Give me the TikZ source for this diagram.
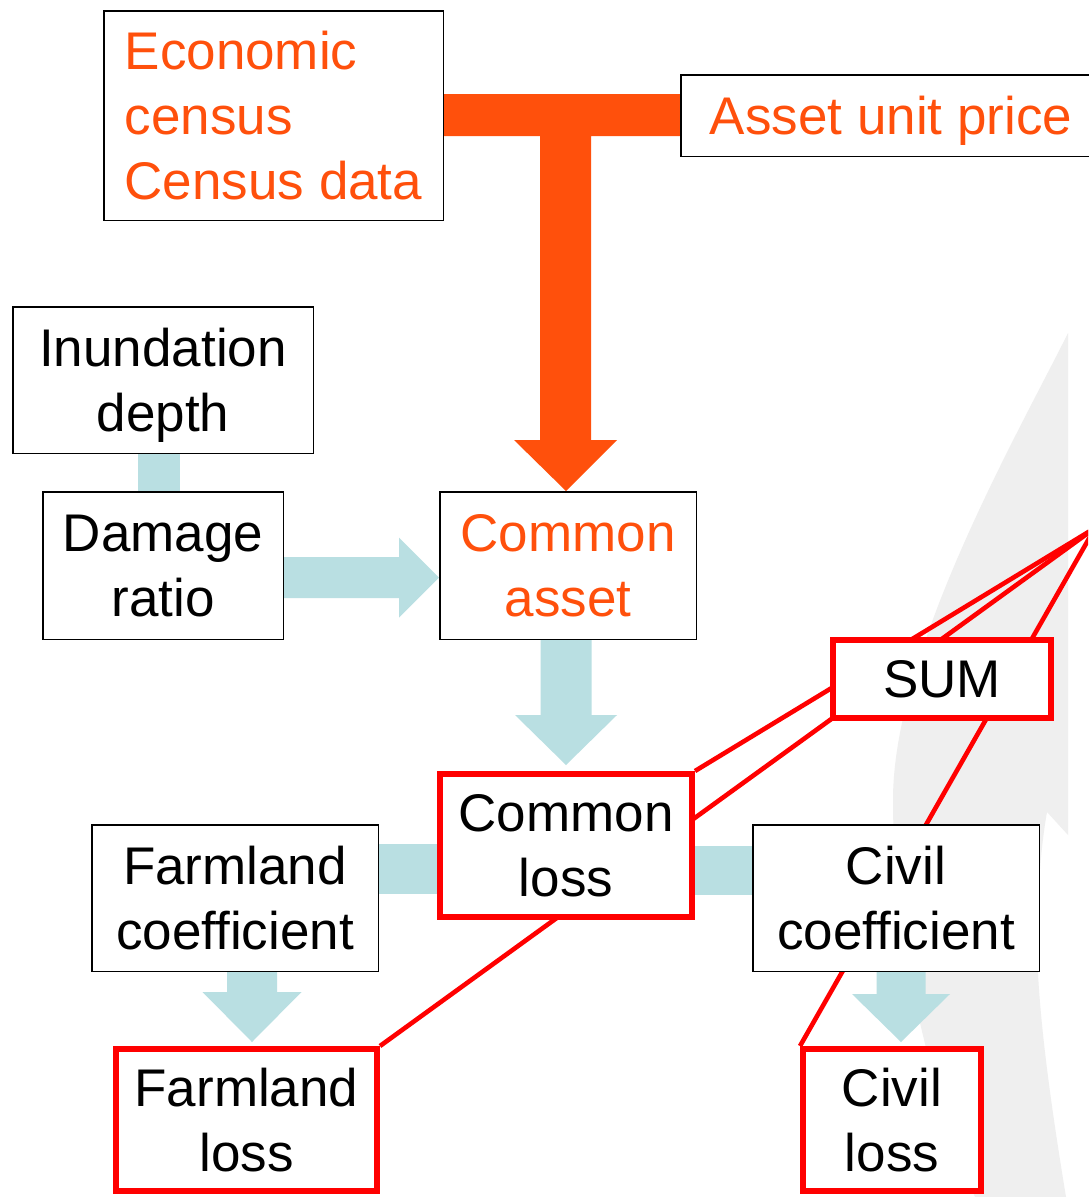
\documentclass[tikz,border=0pt]{standalone}
\usepackage{fontspec}
\setmainfont{Liberation Sans}
\usetikzlibrary{calc}
\definecolor{orangeT}{HTML}{FF500C}
\definecolor{bluearrow}{HTML}{B9DFE2}
\definecolor{swoosh}{HTML}{EFEFEF}
\pgfdeclarelayer{background}
\pgfsetlayers{background,main}
\begin{document}
\begin{tikzpicture}[x=1pt,y=-1pt,
  box/.style={draw=black,line width=1.5pt,fill=white,inner sep=0pt,align=center,text depth=0pt,font=\fontsize{53}{65}\selectfont},
  redbox/.style={box,draw=red,line width=6pt},
  orangetext/.style={text=orangeT},
  redlink/.style={draw=red,line width=4.6pt},
  bluelink/.style={fill=bluearrow},
  tarrow/.style={fill=orangeT}]
\useasboundingbox (0,0) rectangle (1088,1197);

% nodes
\node[box,orangetext,align=left,minimum width=339.5,minimum height=209.5] (econ) at (273.5,115.5) {Economic\\census\\Census data};
\node[box,orangetext,minimum width=420,minimum height=81.5] (price) at (891,115.5) {Asset unit price};
\node[box,minimum width=300.5,minimum height=146.5] (inund) at (163,380) {Inundation\\depth};
\node[box,minimum width=240.5,minimum height=147.5] (damage) at (163,565.5) {Damage\\ratio};
\node[box,orangetext,minimum width=256.5,minimum height=147.5] (casset) at (568,565.5) {Common\\asset};
\node[redbox,minimum width=252,minimum height=143] (closs) at (566,845.5) {Common\\loss};
\node[box,minimum width=286.5,minimum height=146.5] (fcoef) at (235,898) {Farmland\\coefficient};
\node[box,minimum width=286.5,minimum height=146.5] (ccoef) at (896,898) {Civil\\coefficient};
\node[redbox,minimum width=261,minimum height=142] (floss) at (246.5,1120) {Farmland\\loss};
\node[redbox,minimum width=178,minimum height=142] (cvloss) at (892,1120) {Civil\\loss};
\node[redbox,minimum width=218,minimum height=78] (sum) at (942,679) {SUM};
\coordinate (P) at (1095,528);

\begin{pgfonlayer}{background}
\clip (0,0) rectangle (1088,1197);
\fill[white] (0,0) rectangle (1088,1197);
% grey swoosh
\fill[swoosh] (1068,333) .. controls (1020,430) and (893,650) .. (893,800)
  .. controls (893,950) and (935,1100) .. (975,1197)
  -- (1066,1197)
  .. controls (1050,1100) and (1036,1000) .. (1037,930)
  .. controls (1038,880) and (1042,840) .. (1047,812)
  -- (1068,835) -- cycle;
% red pointer lines
\draw[redlink] (P) -- (closs.north east);
\draw[redlink] (P) -- (floss.north east);
\draw[redlink] (P) -- (cvloss.north west);
% blue connectors
\fill[bluelink] ($(inund.south)+(-25,0)$) rectangle ($(damage.north)+(17,0)$);
\coordinate (dc) at ($(damage.east)+(0,12)$);
\coordinate (dt) at (casset.west |- dc);
\fill[bluelink] ($(dc)+(0,-20.5)$) -- ($(dt)+(-40,-20.5)$) -- ($(dt)+(-40,-40)$) -- (dt)
  -- ($(dt)+(-40,40)$) -- ($(dt)+(-40,20.5)$) -- ($(dc)+(0,20.5)$) -- cycle;
\coordinate (ct) at ($(closs.north)+(0,-6)$);
\coordinate (cs) at (casset.south -| ct);
\fill[bluelink] ($(cs)+(-25.5,0)$) -- ($(ct)+(-25.5,-50)$) -- ($(ct)+(-51,-50)$) -- (ct)
  -- ($(ct)+(51,-50)$) -- ($(ct)+(25.5,-50)$) -- ($(cs)+(25.5,0)$) -- cycle;
\fill[bluelink] ($(fcoef.east)+(0,-54)$) rectangle ($(closs.west)+(0,48.5)$);
\fill[bluelink] ($(closs.east)+(0,0.5)$) rectangle ($(ccoef.west)+(0,-3)$);
\coordinate (ft) at ($(floss.north)+(5.5,-4)$);
\coordinate (fs) at (fcoef.south -| ft);
\fill[bluelink] ($(fs)+(-25,0)$) -- ($(ft)+(-25,-50)$) -- ($(ft)+(-49.5,-50)$) -- (ft)
  -- ($(ft)+(49.5,-50)$) -- ($(ft)+(25,-50)$) -- ($(fs)+(25,0)$) -- cycle;
\coordinate (vt) at ($(cvloss.north)+(9,-4)$);
\coordinate (vs) at (ccoef.south -| vt);
\fill[bluelink] ($(vs)+(-24.5,0)$) -- ($(vt)+(-24.5,-48)$) -- ($(vt)+(-49,-48)$) -- (vt)
  -- ($(vt)+(49,-48)$) -- ($(vt)+(24.5,-48)$) -- ($(vs)+(24.5,0)$) -- cycle;
% orange T arrow
\coordinate (tt) at ($(casset.north)+(-2,0)$);
\fill[tarrow] ($(econ.east)+(0,-21.5)$) -- ($(price.west)+(0,-21.5)$) -- ($(price.west)+(0,20.5)$)
  -- ($(tt |- price.west)+(25,20.5)$) -- ($(tt)+(25,-51)$) -- ($(tt)+(51,-51)$) -- (tt)
  -- ($(tt)+(-52,-51)$) -- ($(tt)+(-26,-51)$) -- ($(tt |- econ.east)+(-26,20.5)$)
  -- ($(econ.east)+(0,20.5)$) -- cycle;
\end{pgfonlayer}
\end{tikzpicture}
\end{document}
